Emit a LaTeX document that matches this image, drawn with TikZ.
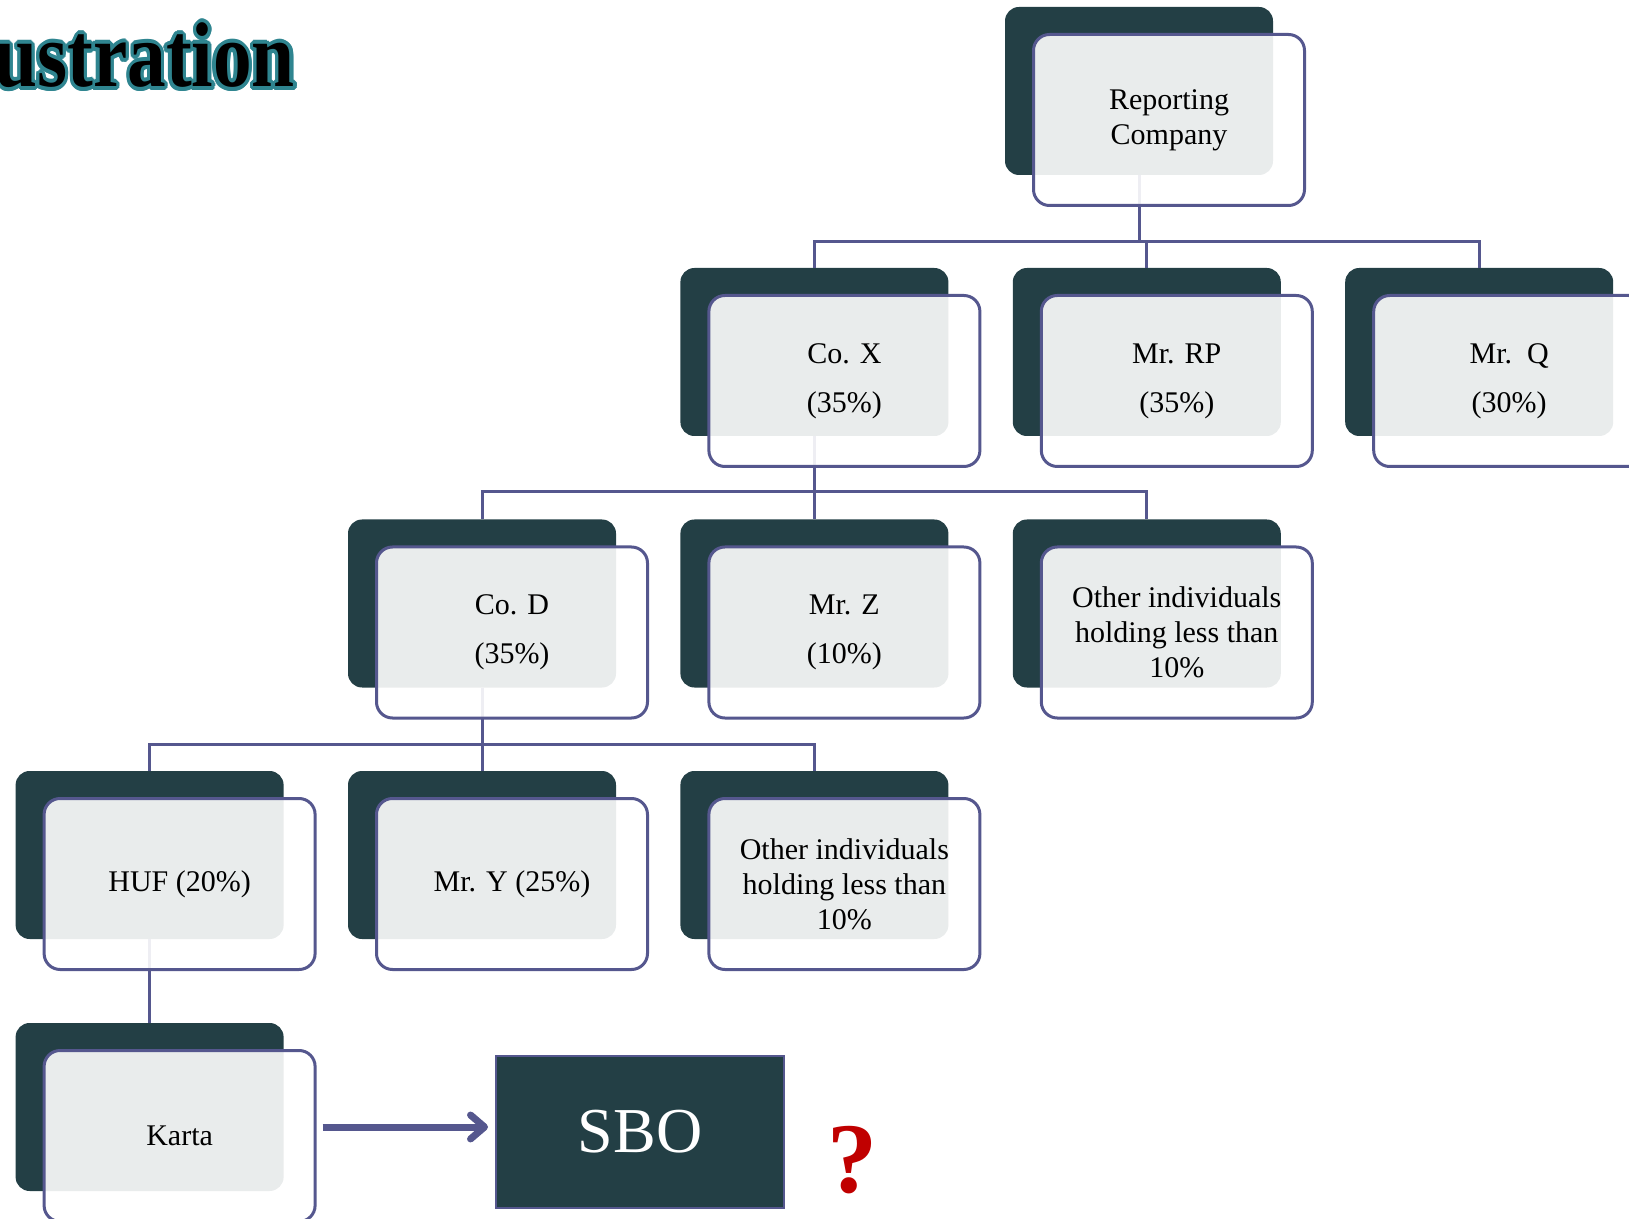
\documentclass[tikz,border=0pt]{standalone}
\usepackage{fontspec}
\setmainfont{Liberation Serif}
\usepackage{contour}
\usepackage{xcolor}
\definecolor{chartDark}{HTML}{233F45}
\definecolor{chartLine}{HTML}{55578E}
\definecolor{chartTeal}{HTML}{2F8590}
\definecolor{chartRed}{HTML}{C00000}
\usetikzlibrary{arrows.meta,calc}
\contourlength{2pt}

\begin{document}
\begin{tikzpicture}[x=0.5pt, y=-0.5pt,
  backbox/.style={rectangle, rounded corners=7pt, fill=chartDark, minimum width=134pt, minimum height=84pt, inner sep=0pt},
  frontbox/.style={rectangle, rounded corners=8pt, draw=chartLine, line width=1.5pt, fill=white, fill opacity=0.9, text opacity=1, minimum width=135.5pt, minimum height=85.5pt, inner sep=2pt, align=center, font=\fontsize{15}{17.5}\selectfont},
  link/.style={chartLine, line width=1.5pt},
  flow/.style={chartLine, line width=3.5pt, -{Straight Barb[length=7pt,width=12pt,round]}}]
  \useasboundingbox (0,0) rectangle (1629,1219);
  % title, cut at the left edge
  \node[anchor=base west, inner sep=0pt, font=\fontsize{46}{46}\selectfont\bfseries] (title) at (-6,87) {\scalebox{0.84}[1]{\contour{chartTeal}{ustration}}};
  % dark back plates
  \node[backbox] (rc-b) at (1139,91) {};
  \node[backbox] (cox-b) at (814.4,352) {};
  \node[backbox] (mrrp-b) at (1146.8,352) {};
  \node[backbox] (mrq-b) at (1479.2,352) {};
  \node[backbox] (cod-b) at (482,603.5) {};
  \node[backbox] (mrz-b) at (814.4,603.5) {};
  \node[backbox] (oth1-b) at (1146.8,603.5) {};
  \node[backbox] (huf-b) at (149.6,855) {};
  \node[backbox] (mry-b) at (482,855) {};
  \node[backbox] (oth2-b) at (814.4,855) {};
  \node[backbox] (karta-b) at (149.6,1107) {};
  % hierarchy links
  \draw[link] (rc-b.south) -- ++(0,66) -| (cox-b.north);
  \draw[link] (rc-b.south) -- ++(0,66) -| (mrrp-b.north);
  \draw[link] (rc-b.south) -- ++(0,66) -| (mrq-b.north);
  \draw[link] (cox-b.south) -- ++(0,55) -| (cod-b.north);
  \draw[link] (cox-b.south) -- ++(0,55) -| (mrz-b.north);
  \draw[link] (cox-b.south) -- ++(0,55) -| (oth1-b.north);
  \draw[link] (cod-b.south) -- ++(0,56.5) -| (huf-b.north);
  \draw[link] (cod-b.south) -- ++(0,56.5) -| (mry-b.north);
  \draw[link] (cod-b.south) -- ++(0,56.5) -| (oth2-b.north);
  \draw[link] (huf-b.south) -- (karta-b.north);
  % front boxes
  \node[frontbox] (rc) at ($(rc-b)+(30,29)$) {Reporting\\Company};
  \node[frontbox] (cox) at ($(cox-b)+(30,29)$) {Co. X\\[7pt](35\%)};
  \node[frontbox] (mrrp) at ($(mrrp-b)+(30,29)$) {Mr. RP\\[7pt](35\%)};
  \node[frontbox] (mrq) at ($(mrq-b)+(30,29)$) {Mr.\ \ Q\\[7pt](30\%)};
  \node[frontbox] (cod) at ($(cod-b)+(30,29)$) {Co. D\\[7pt](35\%)};
  \node[frontbox] (mrz) at ($(mrz-b)+(30,29)$) {Mr. Z\\[7pt](10\%)};
  \node[frontbox] (oth1) at ($(oth1-b)+(30,29)$) {Other individuals\\holding less than\\10\%};
  \node[frontbox] (huf) at ($(huf-b)+(30,29)$) {HUF (20\%)};
  \node[frontbox] (mry) at ($(mry-b)+(30,29)$) {Mr. Y (25\%)};
  \node[frontbox] (oth2) at ($(oth2-b)+(30,29)$) {Other individuals\\holding less than\\10\%};
  \node[frontbox] (karta) at ($(karta-b)+(30,29)$) {Karta};
  % outcome
  \node[rectangle, fill=chartDark, draw=chartLine, line width=1pt, minimum width=144pt, minimum height=76pt, text=white, font=\fontsize{32}{32}\selectfont] (sbo) at (640,1132) {SBO};
  \draw[flow] ($(karta.east |- sbo.west)+(6,-5)$) -- ($(sbo.west)+(-7,-5)$);
  \node[text=chartRed, inner sep=0pt, font=\fontsize{50}{50}\selectfont\bfseries] (qmark) at (852,1160) {?};
\end{tikzpicture}
\end{document}
